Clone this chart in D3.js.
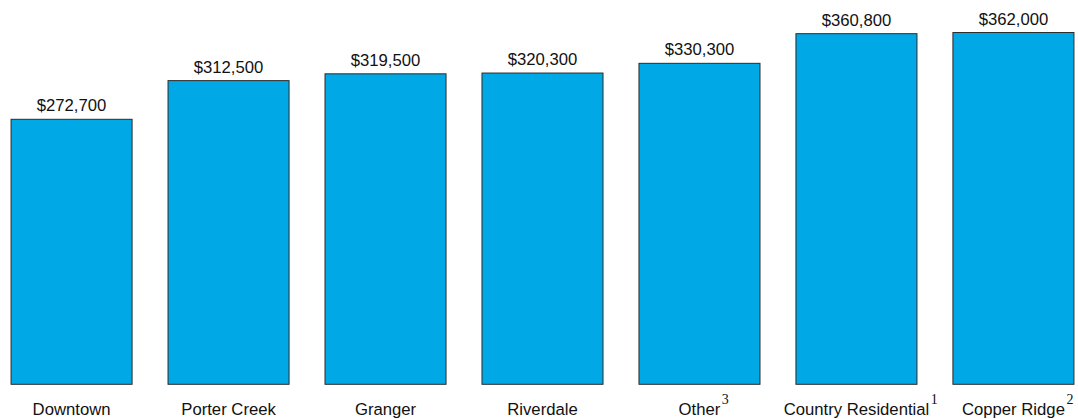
<!DOCTYPE html>
<html>
<head>
<meta charset="utf-8">
<script src="https://cdn.jsdelivr.net/npm/d3@7"></script>
<style>
  body { margin: 0; background: #fff; }
  svg { display: block; }
  .val, .cat { font-family: "Liberation Sans", Arial, sans-serif; font-size: 16.7px; fill: #111; }
  .sup { font-family: "Liberation Serif", "Times New Roman", serif; font-size: 14px; fill: #111; }
</style>
</head>
<body>
<svg id="chart" width="1078" height="419"></svg>
<script>
// values
var areas = ["Downtown", "Porter Creek", "Granger", "Riverdale", "Other", "Country Residential", "Copper Ridge"];
var prices = [272700, 312500, 319500, 320300, 330300, 360800, 362000];
var notes = ["", "", "", "", "3", "1", "2"];

var width = 1078;
var base = 384.3;

var svg = d3.select("#chart");

var xScale = d3.scaleBand()
            .domain(areas)
            .range([-7, 1092])
            .paddingInner(0.229)
            .paddingOuter(0.115);

var yScale = d3.scaleLinear()
            .domain([0, 400000])
            .range([base, base - 400000 * 265 / 272700]);

var fmt = function(v){ return "$" + d3.format(",")(v); };

var g = svg.append("g");

// bars
g.selectAll(".bar")
    .data(prices).enter()
    .append("rect")
    .attr("class", "bar")
    .attr("x", function(d, i){ return xScale(areas[i]); })
    .attr("width", xScale.bandwidth())
    .attr("y", function(d){ return yScale(d); })
    .attr("height", function(d){ return yScale(0) - yScale(d); })
    .attr("fill", "#00a9e6")
    .attr("stroke", "#2b2b2b")
    .attr("stroke-width", 1);

// value labels
g.selectAll(".val")
    .data(prices).enter()
    .append("text")
    .attr("class", "val")
    .attr("text-anchor", "middle")
    .attr("x", function(d, i){ return xScale(areas[i]) + xScale.bandwidth() / 2; })
    .attr("y", function(d){ return yScale(d) - 8; })
    .text(fmt);

// category labels (axis without line/ticks)
var xAxis = svg.append("g")
    .attr("transform", "translate(0," + base + ")")
    .call(d3.axisBottom(xScale).tickSize(0).tickPadding(0));
xAxis.select(".domain").remove();
xAxis.selectAll(".tick text")
    .attr("class", "cat")
    .attr("font-family", null)
    .attr("font-size", null)
    .attr("fill", null)
    .attr("dy", null)
    .attr("y", 30.7);

// footnote marks after labels
xAxis.selectAll(".tick").each(function(d, i){
    if (!notes[i]) return;
    var t = d3.select(this).select("text").node();
    var w = t.getComputedTextLength();
    d3.select(this).append("text")
        .attr("class", "sup")
        .attr("text-anchor", "start")
        .attr("x", w / 2 + 1.5)
        .attr("y", 20)
        .text(notes[i]);
});
</script>
</body>
</html>
